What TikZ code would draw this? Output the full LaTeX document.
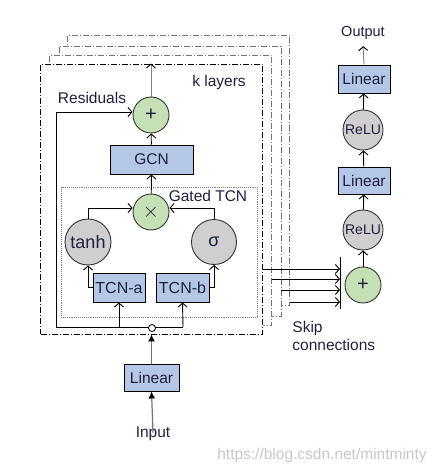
\documentclass[tikz,border=0pt]{standalone}
\usepackage{fontspec}
\setmainfont{Liberation Sans}
\usetikzlibrary{arrows.meta}
\definecolor{boxblue}{HTML}{B4C7E7}
\definecolor{cgray}{HTML}{D0CECE}
\definecolor{cgreen}{HTML}{C5E0B4}
\definecolor{txt}{HTML}{1F1F3F}
\begin{document}
\begin{tikzpicture}[x=1pt,y=-1pt, line width=0.9pt,
  font=\fontsize{15.5}{18}\selectfont,
  blk/.style={draw=black, fill=boxblue, minimum height=28pt, inner sep=0pt, text=txt},
  gc/.style={circle, draw=black!80, fill=cgray, inner sep=0pt, text=txt},
  grc/.style={circle, draw=black!80, fill=cgreen, inner sep=0pt, minimum size=36pt, text=txt},
  layer/.style={draw=#1, fill=white, minimum width=222pt, minimum height=270pt, inner sep=0pt,
    dash pattern=on 6pt off 2pt on 1pt off 2pt},
  arr/.style={-{Straight Barb[length=4pt,width=9pt]}},
  garr/.style={draw=black!50, -{Straight Barb[length=4pt,width=9pt,color=black]}},
  inarr/.style={draw=black!55, line width=1.2pt, -{Latex[length=7pt,width=7pt,color=black]}},
  lbl/.style={text=txt, inner sep=0pt}]
\useasboundingbox (0,0) rectangle (438,473);

% stacked layers
\node[layer=black!55] (L3) at (178.5,170.5) {};
\node[layer=black!55] (L2) at (170,181) {};
\node[layer=black!55] (L1) at (160.5,190.5) {};
\node[layer=black] (L0) at (151.5,199) {};

% gated TCN box
\node[draw=black!50, densely dotted, minimum width=196pt, minimum height=130pt, inner sep=0pt] (gt) at (159,252) {};
\node[lbl] (gtl) at (208,196) {Gated TCN};
\node[lbl] (kl) at (219,82) {k layers};
\node[lbl] (resl) at (92,98) {Residuals};

% nodes in layer
\node[grc] (plus) at (151,115) {\fontsize{20}{20}\selectfont +};
\node[blk, minimum width=83pt, minimum height=29pt] (gcn) at (151.5,159.5) {GCN};
\node[grc] (times) at (151,212) {\fontsize{20}{20}\selectfont$\times$};
\node[gc, minimum size=46pt] (tanh) at (88,242) {\fontsize{18}{18}\selectfont tanh};
\node[gc, minimum size=45pt] (sig) at (214,242) {\fontsize{18}{18}\selectfont σ};
\node[blk, minimum width=52pt, minimum height=29pt] (tcna) at (119,287.5) {\fontsize{16}{16}\selectfont TCN-a};
\node[blk, minimum width=53pt, minimum height=29pt] (tcnb) at (182.5,287.5) {\fontsize{16}{16}\selectfont TCN-b};

\coordinate (res) at (56,327);
\coordinate (bj) at (183,327);
\draw (res) -- (bj);
\draw[arr] (res) |- ([yshift=3pt]plus.west);
\draw[arr] (tcna |- res) -- (tcna.south);
\draw[arr] (bj) -- (tcnb.south);
\node[circle, draw=black, fill=white, inner sep=0pt, minimum size=7pt, line width=0.8pt] (jn) at (152,328) {};

\draw[arr] (tcna.west) -| (tanh.south);
\draw[arr] (tcnb.east) -| (sig.south);
\draw[arr] (tanh.north) |- ([yshift=4pt]times.west);
\draw[arr] (sig.north) |- ([yshift=4pt]times.east);
\draw[arr] (times) -- (gcn.south);
\draw[arr] (gcn) -- (plus);
\draw[garr] (plus) -- (plus |- L0.north);

% input
\node[blk, minimum width=55pt, minimum height=27pt] (lin) at (151.5,377.5) {Linear};
\node[lbl] (inp) at (153,434) {Input};
\draw[inarr] ([yshift=-6pt]inp.north) -- (lin.south);
\draw[inarr] (lin.north) -- (lin.north |- L0.south);

% skip connections
\coordinate (bt) at (340,257);
\coordinate (bb) at (340,309);
\draw (bt) -- (bb);
\coordinate (e0) at (340,269);
\coordinate (e1) at (340,279);
\coordinate (e2) at (340,290);
\coordinate (e3) at (340,302);
\draw[arr] (L0.east |- e0) -- (e0);
\draw[arr] (L1.east |- e1) -- (e1);
\draw[arr] (L2.east |- e2) -- (e2);
\draw[arr] (L3.east |- e3) -- (e3);
\node[lbl, align=left, anchor=west] (skl) at (292,336) {Skip\\connections};

% output branch
\node[grc] (sp) at (363,285) {\fontsize{20}{20}\selectfont +};
\node[gc, minimum size=40pt] (r1) at (363,230) {\fontsize{14}{14}\selectfont ReLU};
\node[blk, minimum width=52pt, minimum height=27pt] (l1) at (364,180.5) {Linear};
\node[gc, minimum size=40pt] (r2) at (363,130) {\fontsize{14}{14}\selectfont ReLU};
\node[blk, minimum width=52pt, minimum height=28pt] (l2) at (364,79) {Linear};
\node[lbl] (out) at (363,33) {\fontsize{14.5}{15}\selectfont Output};
\draw[arr] (sp) -- (r1);
\draw[arr] (r1) -- (l1);
\draw[arr] (l1) -- (r2);
\draw[arr] (r2) -- (l2);
\draw[garr] (l2.north) -- ([yshift=-6pt]out.south);

\node[text=black!22] (wm) at (322,455) {https://blog.csdn.net/mintminty};
\end{tikzpicture}
\end{document}
